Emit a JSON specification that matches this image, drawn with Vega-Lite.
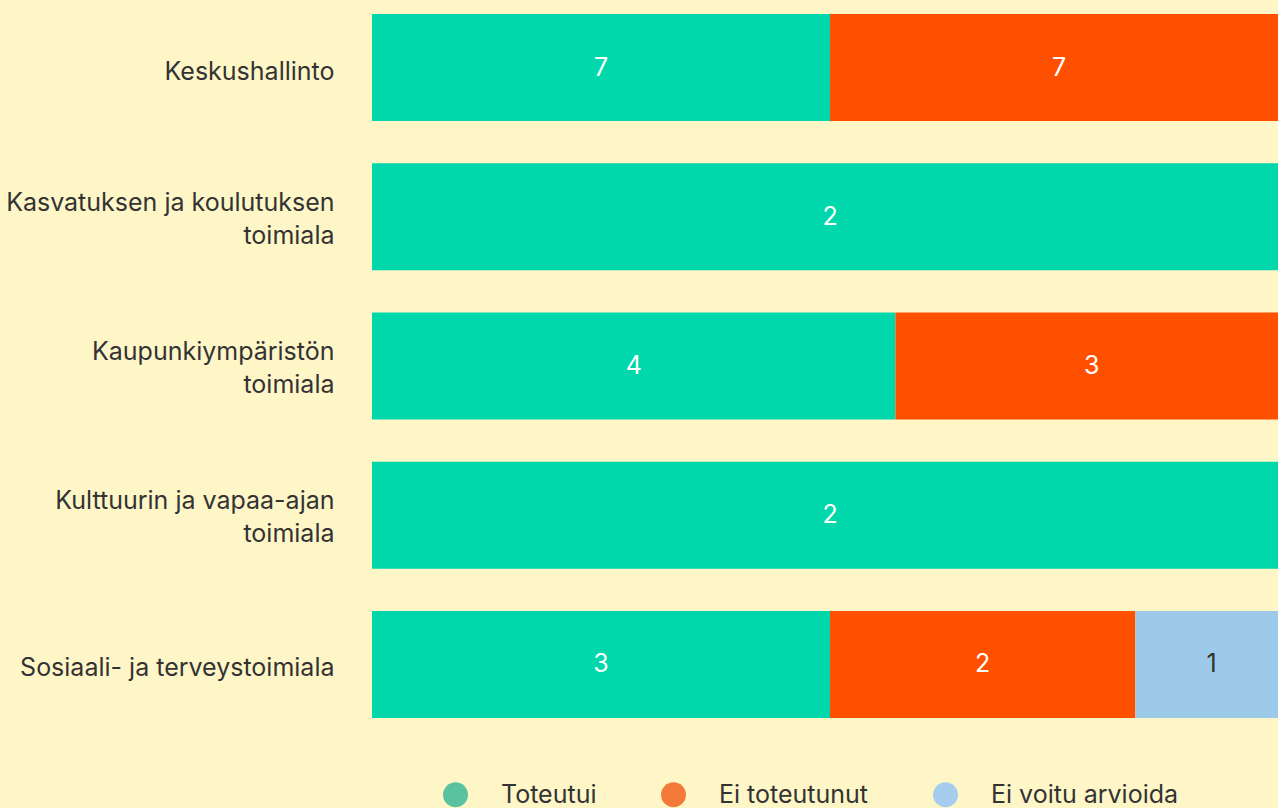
{
  "$schema": "https://vega.github.io/schema/vega-lite/v6.json",
  "autosize": {"type": "none"},
  "padding": {"left": 372, "top": 0, "right": 0, "bottom": 76},
  "width": 906,
  "height": 732,
  "background": "#fff6c8",
  "config": {"font": "Inter", "view": {"stroke": null}},
  "data": {"values": [
    {"yksikko": "Keskushallinto", "tila": "Toteutui", "n": 7, "order": 1},
    {"yksikko": "Keskushallinto", "tila": "Ei toteutunut", "n": 7, "order": 2},
    {"yksikko": "Kasvatuksen ja koulutuksen|toimiala", "tila": "Toteutui", "n": 2, "order": 1},
    {"yksikko": "Kaupunkiympäristön|toimiala", "tila": "Toteutui", "n": 4, "order": 1},
    {"yksikko": "Kaupunkiympäristön|toimiala", "tila": "Ei toteutunut", "n": 3, "order": 2},
    {"yksikko": "Kulttuurin ja vapaa-ajan|toimiala", "tila": "Toteutui", "n": 2, "order": 1},
    {"yksikko": "Sosiaali- ja terveystoimiala", "tila": "Toteutui", "n": 3, "order": 1},
    {"yksikko": "Sosiaali- ja terveystoimiala", "tila": "Ei toteutunut", "n": 2, "order": 2},
    {"yksikko": "Sosiaali- ja terveystoimiala", "tila": "Ei voitu arvioida", "n": 1, "order": 3}
  ]},
  "transform": [
    {"stack": "n", "groupby": ["yksikko"], "sort": [{"field": "order"}], "offset": "normalize", "as": ["x0", "x1"]},
    {"calculate": "(datum.x0 + datum.x1) / 2", "as": "mid"}
  ],
  "encoding": {
    "y": {
      "field": "yksikko", "type": "nominal", "sort": null,
      "scale": {"paddingInner": 0.283, "paddingOuter": 0.094},
      "axis": {
        "title": null, "domain": false, "ticks": false,
        "labelFontSize": 25, "labelColor": "#333333", "labelPadding": 38,
        "labelLimit": 500, "labelLineHeight": 33,
        "labelOffset": {"condition": {"test": "indexof(datum.value, '|') >= 0", "value": -14}, "value": 4},
        "labelExpr": "split(datum.label, '|')"
      }
    }
  },
  "layer": [
    {
      "mark": {"type": "point", "filled": true, "size": 625, "opacity": 1},
      "encoding": {
        "x": {"field": "mid", "type": "quantitative", "scale": {"domain": [0, 0.98908], "nice": false, "zero": true}, "axis": null},
        "color": {
          "field": "tila", "type": "nominal",
          "scale": {"domain": ["Toteutui", "Ei toteutunut", "Ei voitu arvioida"], "range": ["#5bc2a0", "#f47a3a", "#a6cdee"]},
          "legend": {
            "title": null, "orient": "none", "direction": "horizontal",
            "legendX": 71, "legendY": 782,
            "symbolType": "circle", "symbolSize": 625, "symbolStrokeWidth": 0,
            "labelFontSize": 25, "labelColor": "#333333", "labelOffset": 33,
            "columnPadding": 64, "labelLimit": 400
          }
        }
      }
    },
    {
      "mark": {"type": "bar", "clip": true},
      "encoding": {
        "x": {"field": "x0", "type": "quantitative"},
        "x2": {"field": "x1"},
        "fill": {
          "field": "tila", "type": "nominal",
          "scale": {"domain": ["Toteutui", "Ei toteutunut", "Ei voitu arvioida"], "range": ["#00d7ab", "#ff5000", "#9ecaea"]},
          "legend": null
        }
      }
    },
    {
      "mark": {"type": "text", "fontSize": 25},
      "encoding": {
        "x": {"field": "mid", "type": "quantitative"},
        "text": {"field": "n", "type": "quantitative"},
        "fill": {"condition": {"test": "datum.tila == 'Ei voitu arvioida'", "value": "#333333"}, "value": "#ffffff"}
      }
    }
  ]
}
